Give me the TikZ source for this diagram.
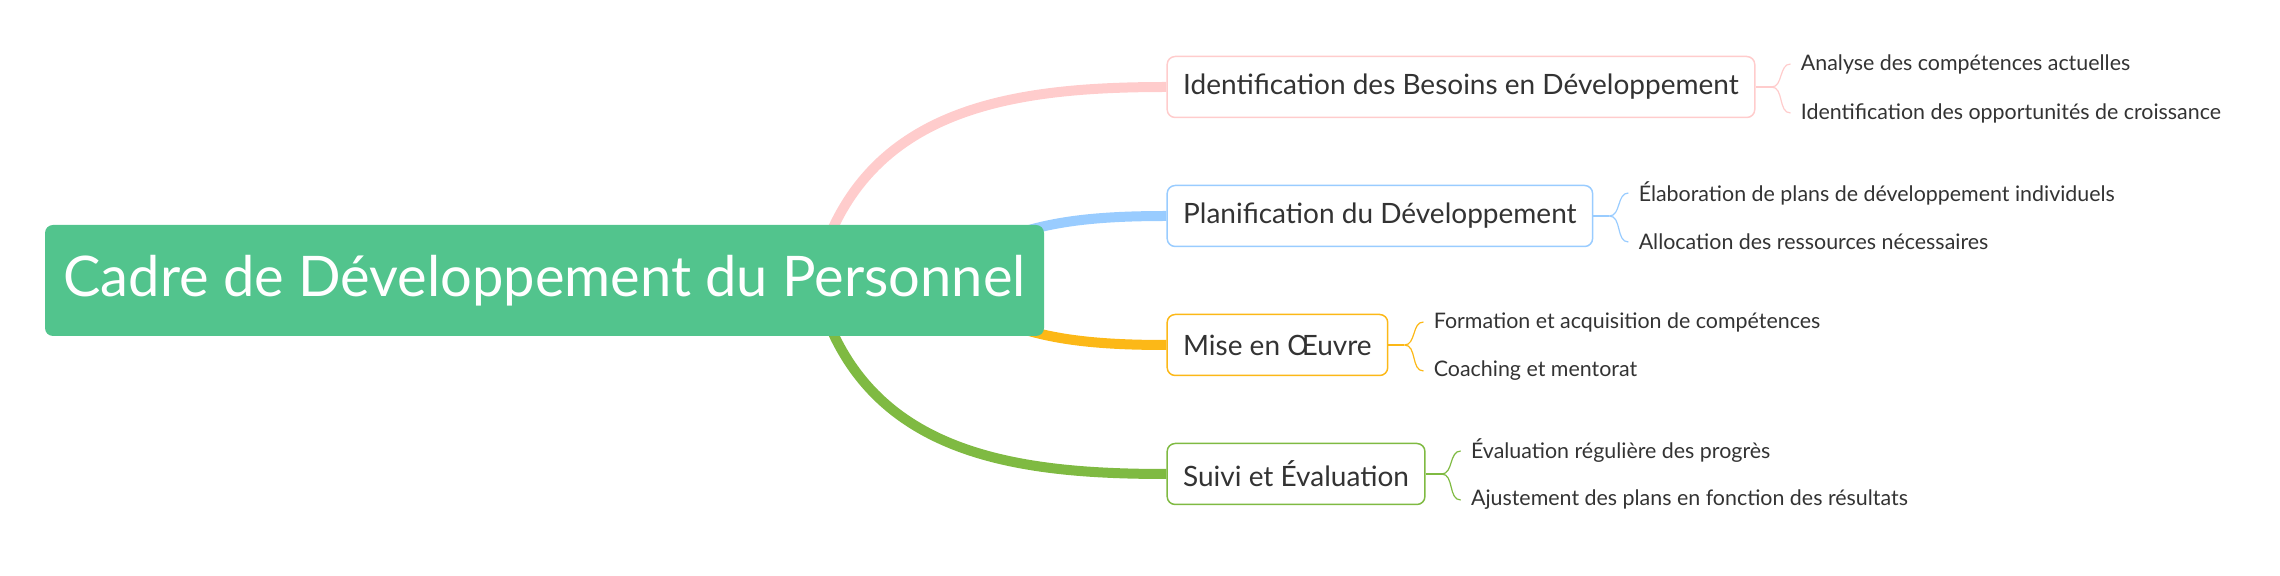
\documentclass[tikz,border=0pt]{standalone}
\usepackage{fontspec}
\setmainfont{Lato}
\usetikzlibrary{positioning,backgrounds}
\definecolor{rootgreen}{HTML}{52C48D}
\definecolor{idpink}{HTML}{FFCCCC}
\definecolor{planblue}{HTML}{99CCFF}
\definecolor{workorange}{HTML}{FCB817}
\definecolor{evalgreen}{HTML}{7FBA42}
\definecolor{textgray}{HTML}{333333}

\begin{document}
\begin{tikzpicture}[
    rootbox/.style={
    rectangle,
    rounded corners=4pt,
    fill=rootgreen,
    text=white,
    minimum width=499.5pt,
    minimum height=55.5pt,
    font=\fontsize{28}{32}\selectfont},
    branchbox/.style={
    rectangle,
    rounded corners=4pt,
    draw=#1,
    line width=0.75pt,
    fill=white,
    text=textgray,
    minimum height=30.5pt,
    inner xsep=8pt,
    font=\fontsize{14}{16}\selectfont},
    leaf/.style={inner xsep=5pt, inner ysep=0pt, text=textgray, font=\fontsize{10.7}{12}\selectfont},
    mainline/.style={line width=5pt, draw=#1},
    braceline/.style={line width=0.6pt, draw=#1},
    node distance=61pt
    ]
    \useasboundingbox (0,0) rectangle (1140pt,-288pt);

    \node[rootbox] (root) at (272.25pt,-140.25pt) {Cadre de Développement du Personnel};

    \node[branchbox=idpink, right=of root.east, yshift=96.75pt] (b1) {Identification des Besoins en Développement};
    \node[branchbox=planblue, right=of root.east, yshift=32.25pt] (b2) {Planification du Développement};
    \node[branchbox=workorange, right=of root.east, yshift=-32.25pt] (b3) {Mise en Œuvre};
    \node[branchbox=evalgreen, right=of root.east, yshift=-96.75pt] (b4) {Suivi et Évaluation};

    \node[leaf, right=17.5pt of b1.east, yshift=11.5pt] (l1a) {Analyse des compétences actuelles};
    \node[leaf, right=17.5pt of b1.east, yshift=-13pt] (l1b) {Identification des opportunités de croissance};
    \node[leaf, right=17.5pt of b2.east, yshift=11.5pt] (l2a) {Élaboration de plans de développement individuels};
    \node[leaf, right=17.5pt of b2.east, yshift=-13pt] (l2b) {Allocation des ressources nécessaires};
    \node[leaf, right=17.5pt of b3.east, yshift=11.5pt] (l3a) {Formation et acquisition de compétences};
    \node[leaf, right=17.5pt of b3.east, yshift=-13pt] (l3b) {Coaching et mentorat};
    \node[leaf, right=17.5pt of b4.east, yshift=11.5pt] (l4a) {Évaluation régulière des progrès};
    \node[leaf, right=17.5pt of b4.east, yshift=-13pt] (l4b) {Ajustement des plans en fonction des résultats};

    % thick curves from the root
    \begin{scope}[on background layer]
    \draw[mainline=idpink] ([xshift=133pt,yshift=-10pt]root.center) .. controls +(17.5pt,95pt) and +(-83pt,0) .. (b1.west);
    \draw[mainline=planblue] ([xshift=217.75pt,yshift=15.25pt]root.center) .. controls +(25pt,14pt) and +(-38pt,0) .. (b2.west);
    \draw[mainline=workorange] ([xshift=217.75pt,yshift=-15.25pt]root.center) .. controls +(25pt,-14pt) and +(-38pt,0) .. (b3.west);
    \draw[mainline=evalgreen] ([xshift=133pt,yshift=10pt]root.center) .. controls +(17.5pt,-95pt) and +(-83pt,0) .. (b4.west);
    \end{scope}

    % braces
    \draw[braceline=idpink] (b1.east) -- ++(8pt,0) coordinate (j1);
    \draw[braceline=idpink] (j1) to[out=0,in=180] (l1a.west);
    \draw[braceline=idpink] (j1) to[out=0,in=180] (l1b.west);
    \draw[braceline=planblue] (b2.east) -- ++(8pt,0) coordinate (j2);
    \draw[braceline=planblue] (j2) to[out=0,in=180] (l2a.west);
    \draw[braceline=planblue] (j2) to[out=0,in=180] (l2b.west);
    \draw[braceline=workorange] (b3.east) -- ++(8pt,0) coordinate (j3);
    \draw[braceline=workorange] (j3) to[out=0,in=180] (l3a.west);
    \draw[braceline=workorange] (j3) to[out=0,in=180] (l3b.west);
    \draw[braceline=evalgreen] (b4.east) -- ++(8pt,0) coordinate (j4);
    \draw[braceline=evalgreen] (j4) to[out=0,in=180] (l4a.west);
    \draw[braceline=evalgreen] (j4) to[out=0,in=180] (l4b.west);
\end{tikzpicture}
\end{document}
